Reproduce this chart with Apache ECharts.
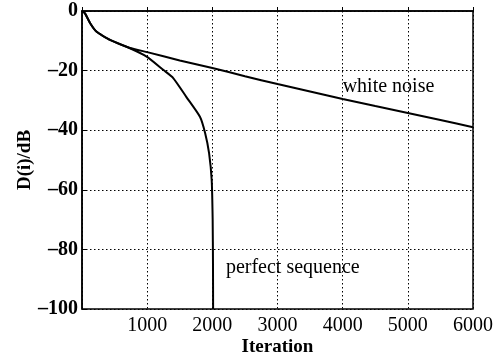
<!DOCTYPE html>
<html><head><meta charset="utf-8">
<script src="https://cdn.jsdelivr.net/npm/echarts@6/dist/echarts.min.js"></script>
<style>html,body{margin:0;padding:0;background:#fff}#c{width:498px;height:357px}</style>
</head><body><div id="c"></div>
<script>
var whiteNoiseX = [0, 46, 123, 225, 430, 736, 1000, 1500, 2000, 2500, 3000, 3500, 4000, 4500, 5000, 5500, 6000];
var whiteNoiseY = [0, -0.8, -4, -7, -9.7, -12.4, -13.8, -16.6, -19.1, -21.9, -24.5, -27.0, -29.5, -31.9, -34.2, -36.6, -39];
var perfectX = [0, 46, 123, 225, 430, 736, 992, 1250, 1400, 1600, 1810, 1890, 1950, 1990, 2005, 2010, 2012];
var perfectY = [0, -0.8, -4, -7, -9.7, -12.5, -15.3, -19.8, -22.5, -28.8, -35.5, -41, -47.7, -56.7, -70, -85, -100];
var xTicks = [0, 1000, 2000, 3000, 4000, 5000, 6000];
var yTicks = [-100, -80, -60, -40, -20, 0];
var labels = [
  {text: 'white noise', x: 4000, y: -25.3},
  {text: 'perfect sequence', x: 2208, y: -86}
];
function zip(a, b) { return a.map(function (v, i) { return [v, b[i]]; }); }
var font = '"Liberation Serif", "DejaVu Serif", serif';
var chart = echarts.init(document.getElementById('c'));
chart.setOption({
  animation: false,
  grid: {left: 82, right: 25, top: 11, bottom: 48, show: true, borderColor: '#000', borderWidth: 1.5,
    outerBoundsMode: 'none', containLabel: false},
  xAxis: {
    type: 'value', min: xTicks[0], max: xTicks[xTicks.length - 1], interval: 1000,
    name: 'Iteration', nameLocation: 'middle', nameGap: 29, nameMoveOverlap: false,
    nameTextStyle: {fontFamily: font, fontSize: 19, color: '#000', fontWeight: 'bold'},
    axisLine: {show: true, lineStyle: {color: '#000', width: 1.5}},
    axisTick: {show: true, inside: true, length: 4, lineStyle: {color: '#000'}},
    axisLabel: {fontFamily: font, fontSize: 20, color: '#000', margin: 7,
      formatter: function (v) { return v === 0 ? '' : String(v); }},
    splitLine: {show: true, lineStyle: {color: '#000', type: [1.5, 2.5], width: 1}}
  },
  yAxis: {
    type: 'value', min: yTicks[0], max: yTicks[yTicks.length - 1], interval: 20,
    name: 'D(i)/dB', nameLocation: 'middle', nameGap: 47, nameMoveOverlap: false,
    nameTextStyle: {fontFamily: font, fontSize: 19, color: '#000', fontWeight: 'bold'},
    axisLine: {show: true, lineStyle: {color: '#000', width: 1.5}},
    axisTick: {show: true, inside: true, length: 4, lineStyle: {color: '#000'}},
    axisLabel: {fontFamily: font, fontSize: 20, color: '#000', fontWeight: 'bold', margin: 4,
      formatter: function (v) { return String(v).replace('-', '\u2013'); }},
    splitLine: {show: true, lineStyle: {color: '#000', type: [1.5, 2.5], width: 1}}
  },
  series: [
    {type: 'line', data: zip(whiteNoiseX, whiteNoiseY), showSymbol: false, smooth: 0.12,
      lineStyle: {color: '#000', width: 2}},
    {type: 'line', data: zip(perfectX, perfectY), showSymbol: false, smooth: 0.2,
      lineStyle: {color: '#000', width: 2}}
  ]
});
chart.setOption({
  graphic: labels.map(function (l) {
    var p = chart.convertToPixel({gridIndex: 0}, [l.x, l.y]);
    return {type: 'text', x: p[0], y: p[1], z: 100,
      style: {text: l.text, fill: '#000', font: '20px ' + font, textVerticalAlign: 'middle', textAlign: 'left'}};
  })
});
</script></body></html>
